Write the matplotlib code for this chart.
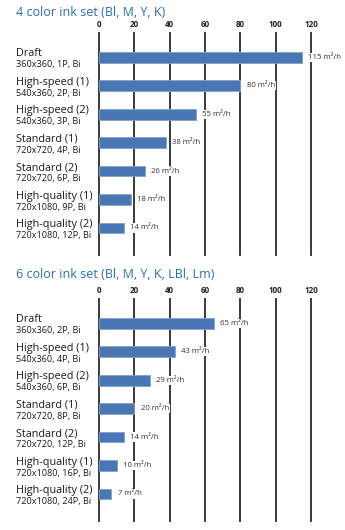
import matplotlib.pyplot as plt

plt.rcParams["font.family"] = ["Open Sans", "DejaVu Sans"]

TITLE_4 = "4 color ink set (Bl, M, Y, K)"
MODES_4 = ["Draft", "High-speed (1)", "High-speed (2)", "Standard (1)",
           "Standard (2)", "High-quality (1)", "High-quality (2)"]
SETTINGS_4 = ["360x360, 1P, Bi", "540x360, 2P, Bi", "540x360, 3P, Bi",
              "720x720, 4P, Bi", "720x720, 6P, Bi", "720x1080, 9P, Bi",
              "720x1080, 12P, Bi"]
SPEEDS_4 = [115, 80, 55, 38, 26, 18, 14]

TITLE_6 = "6 color ink set (Bl, M, Y, K, LBl, Lm)"
MODES_6 = MODES_4
SETTINGS_6 = ["360x360, 2P, Bi", "540x360, 4P, Bi", "540x360, 6P, Bi",
              "720x720, 8P, Bi", "720x720, 12P, Bi", "720x1080, 16P, Bi",
              "720x1080, 24P, Bi"]
SPEEDS_6 = [65, 43, 29, 20, 14, 10, 7]

TICKS = [0, 20, 40, 60, 80, 100, 120]

W, H = 345, 530
BAR_COLOR = "#4a77b4"
TITLE_COLOR = "#2b6db3"
GRID_COLOR = "#3a3a3a"
TEXT_COLOR = "#1a1a1a"


def draw_panel(fig, top_px, bottom_px, title_y_px, title, modes, settings, speeds):
    left_px, right_px = 99, 311
    ax = fig.add_axes([left_px / W, 1 - bottom_px / H,
                       (right_px - left_px) / W, (bottom_px - top_px) / H])
    n = len(speeds)
    ax.set_xlim(0, 120)
    ax.set_ylim(n - 1 + 0.95, -0.85)
    for s in ax.spines.values():
        s.set_visible(False)

    for t in TICKS:
        ax.axvline(t, color=GRID_COLOR, lw=1.4, zorder=1, clip_on=False)

    ys = list(range(n))
    ax.barh(ys, speeds, height=0.38, color=BAR_COLOR, edgecolor="#7ea3d3",
            linewidth=0.6, zorder=2)

    # value labels sit on white so the grid breaks behind them
    for y, v in zip(ys, speeds):
        ax.text(v + 3.5, y, f"{v} m\u00b2/h", fontsize=5.6, color="#333333",
                va="center", ha="left", zorder=3,
                bbox=dict(facecolor="white", edgecolor="none", pad=0.8))

    ax.xaxis.tick_top()
    ax.set_xticks(TICKS)
    ax.set_xticklabels([str(t) for t in TICKS], fontsize=5.8,
                       fontweight="bold", color="#222222")
    ax.tick_params(axis="x", length=0, pad=3)
    ax.set_yticks([])

    # two-line category labels on the left
    for y, m, s in zip(ys, modes, settings):
        ax.annotate(m, xy=(16 / W, y), xycoords=("figure fraction", "data"),
                    xytext=(0, 0.6), textcoords="offset points",
                    fontsize=7.8, color=TEXT_COLOR, ha="left", va="baseline")
        ax.annotate(s, xy=(16 / W, y), xycoords=("figure fraction", "data"),
                    xytext=(0, -7.4), textcoords="offset points",
                    fontsize=6.6, color=TEXT_COLOR, ha="left", va="baseline")

    fig.text(16 / W, 1 - title_y_px / H, title, fontsize=9.0,
             color=TITLE_COLOR, ha="left", va="center")
    return ax


fig = plt.figure(figsize=(W / 100, H / 100), dpi=100)

draw_panel(fig, 33, 255, 12, TITLE_4, MODES_4, SETTINGS_4, SPEEDS_4)
draw_panel(fig, 299, 521, 275, TITLE_6, MODES_6, SETTINGS_6, SPEEDS_6)

fig.savefig("out.png", dpi=100)
